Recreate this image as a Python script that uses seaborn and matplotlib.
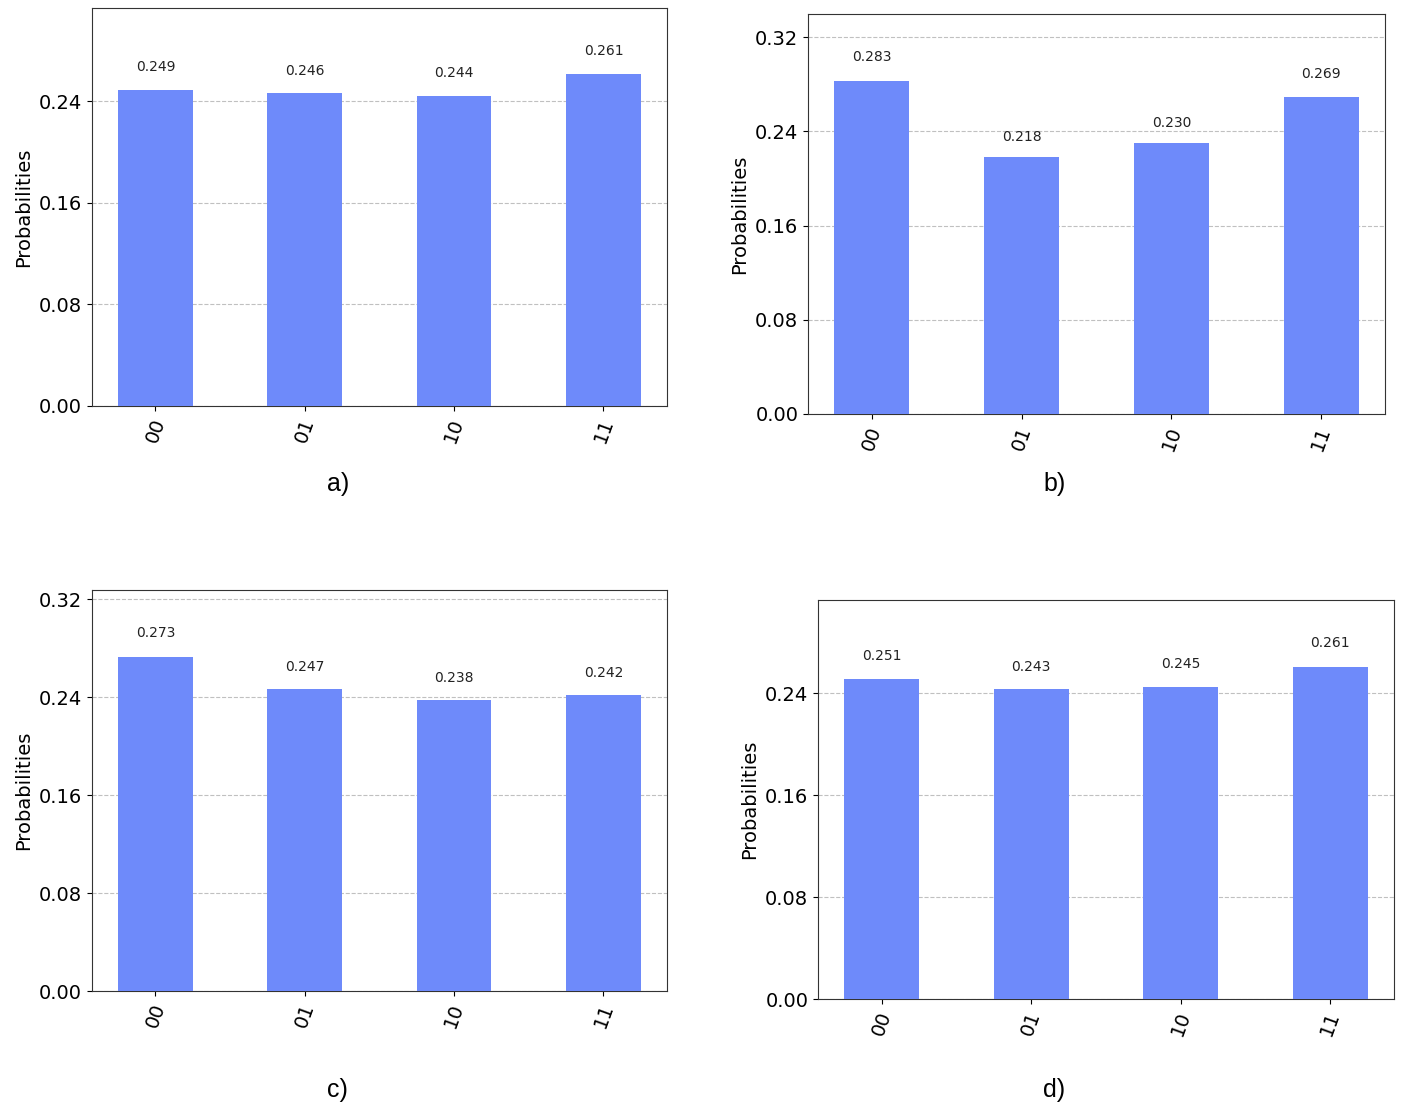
import pandas as pd
import matplotlib
matplotlib.use("Agg")
import matplotlib.pyplot as plt
import seaborn as sns

# measured states and probabilities for the four runs
states = ["00", "01", "10", "11"]
probs_a = [0.249, 0.246, 0.244, 0.261]
probs_b = [0.283, 0.218, 0.230, 0.269]
probs_c = [0.273, 0.247, 0.238, 0.242]
probs_d = [0.251, 0.243, 0.245, 0.261]
panel_labels = ["a)", "b)", "c)", "d)"]
y_ticks = [0.00, 0.08, 0.16, 0.24, 0.32]

bar_color = "#6e8afa"

fig = plt.figure(figsize=(14.02, 11.11), dpi=100)

# axes boxes [left, bottom, width, height] and caption centres (fig fraction)
boxes = [
    [0.0656, 0.6346, 0.4101, 0.3582],
    [0.5763, 0.6274, 0.4116, 0.3600],
    [0.0656, 0.1080, 0.4101, 0.3609],
    [0.5835, 0.1008, 0.4108, 0.3591],
]
captions = [(0.241, 0.554), (0.752, 0.554), (0.241, 0.008), (0.752, 0.008)]

for probs, box, lab, (cx, cy) in zip([probs_a, probs_b, probs_c, probs_d],
                                     boxes, panel_labels, captions):
    ax = fig.add_axes(box)
    df = pd.DataFrame({"state": states, "prob": probs})
    sns.barplot(data=df, x="state", y="prob", color=bar_color, width=0.5,
                saturation=1, ax=ax, zorder=3)
    for p in ax.patches:
        h = p.get_height()
        ax.text(p.get_x() + p.get_width() / 2, 1.05 * h, f"{h:.3f}",
                ha="center", va="bottom", fontsize=10, color="#222222")
    ymax = max(probs) * 1.2
    ax.set_ylim(0, ymax)
    ax.set_yticks([t for t in y_ticks if t <= ymax])
    ax.set_yticklabels([f"{t:.2f}" for t in y_ticks if t <= ymax], fontsize=14)
    ax.set_xlim(-0.425, len(states) - 1 + 0.425)
    ax.set_xticks(range(len(states)))
    ax.set_xticklabels(states, fontsize=14, rotation=70)
    ax.set_xlabel("")
    ax.set_ylabel("Probabilities", fontsize=14)
    ax.grid(axis="y", linestyle="--", color="#c0c0c0", linewidth=0.8, zorder=0)
    ax.set_axisbelow(True)
    for s in ax.spines.values():
        s.set_color("#333333")
    fig.text(cx, cy, lab, ha="center", va="bottom", fontsize=18,
             family="Liberation Sans")

fig.savefig("out.png", dpi=100)
